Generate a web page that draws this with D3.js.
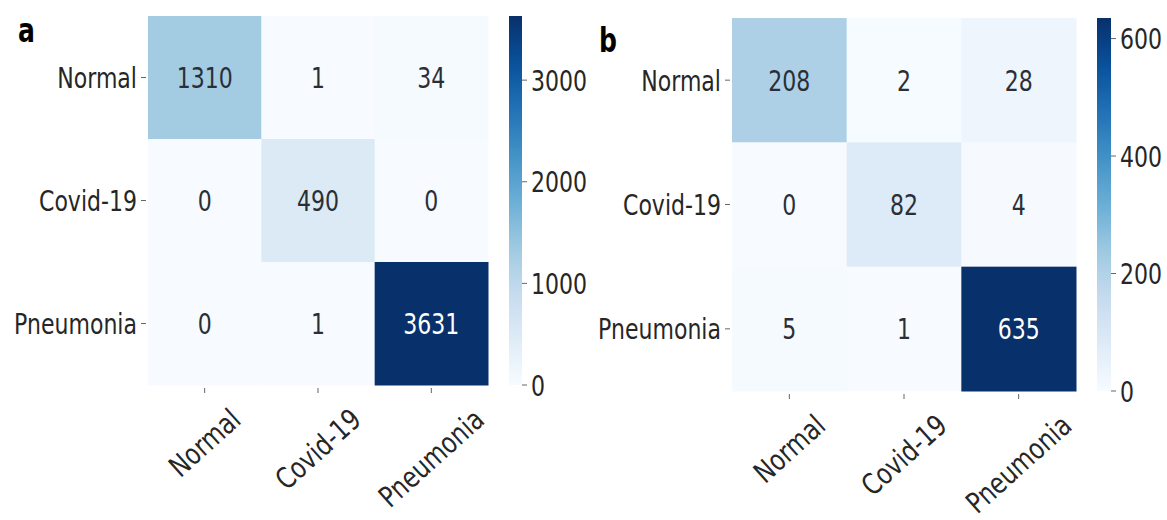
<!DOCTYPE html>
<html>
<head>
<meta charset="utf-8">
<script src="https://cdn.jsdelivr.net/npm/d3@7"></script>
<style>
  html, body { margin: 0; padding: 0; background: #ffffff; }
  svg { display: block; }
  text { font-family: "DejaVu Sans", sans-serif; fill: #262626; }
</style>
</head>
<body>
<svg id="chart" width="1167" height="520"></svg>
<script>
// ---------------- DATA ----------------
const classes = ["Normal", "Covid-19", "Pneumonia"];
const matrixA = [[1310, 1, 34], [0, 490, 0], [0, 1, 3631]];
const matrixB = [[208, 2, 28], [0, 82, 4], [5, 1, 635]];
const colorTicksA = [0, 1000, 2000, 3000];
const colorTicksB = [0, 200, 400, 600];
const panelLabels = ["a", "b"];

// matplotlib "Blues" colormap stops
const bluesStops = ["#f7fbff", "#deebf7", "#c6dbef", "#9ecae1", "#6baed6",
                    "#4292c6", "#2171b5", "#08519c", "#08306b"];

// ---------------- LAYOUT ----------------
const FS = 29;        // font size
const SX = 0.76;      // horizontal squeeze of text
const SXR = 0.8;      // squeeze of rotated labels
const ROT = 42;       // apparent rotation of x labels
const panels = [
  { data: matrixA, ticks: colorTicksA, label: panelLabels[0],
    hx: [148, 488], hy: [16, 385], cb: [509, 522], lab: [18, 42] },
  { data: matrixB, ticks: colorTicksB, label: panelLabels[1],
    hx: [732, 1076], hy: [18, 391], cb: [1097, 1111], lab: [599, 52] }
];

const svg = d3.select("#chart");
const defs = svg.append("defs");
const blues = d3.scaleLinear()
  .domain(d3.range(bluesStops.length).map(i => i / (bluesStops.length - 1)))
  .range(bluesStops)
  .interpolate(d3.interpolateRgb);

function squeezedText(g, x, y, str, opts = {}) {
  const t = g.append("text")
    .attr("transform", `translate(${x},${y})` + (opts.rotate ? ` rotate(${opts.rotate})` : "") + ` scale(${SX},1)`)
    .attr("font-size", opts.size || FS)
    .attr("text-anchor", opts.anchor || "start")
    .text(str);
  if (opts.dy !== undefined) t.attr("dy", opts.dy);
  if (opts.weight) t.attr("font-weight", opts.weight);
  if (opts.fill) t.style("fill", opts.fill);
  return t;
}

panels.forEach((p, pi) => {
  const g = svg.append("g");
  const flat = p.data.flat();
  const vmax = d3.max(flat);
  const color = v => blues(v / vmax);

  const x = d3.scaleBand().domain(classes).range(p.hx).padding(0);
  const y = d3.scaleBand().domain(classes).range(p.hy).padding(0);

  // cells
  const cells = [];
  p.data.forEach((row, ri) => row.forEach((v, ci) => cells.push({ r: classes[ri], c: classes[ci], v })));
  g.selectAll("rect.cell").data(cells).enter().append("rect")
    .attr("class", "cell")
    .attr("x", d => x(d.c)).attr("y", d => y(d.r))
    .attr("width", x.bandwidth() + 0.5).attr("height", y.bandwidth() + 0.5)
    .attr("fill", d => color(d.v));

  // annotations
  cells.forEach(d => {
    const lum = d3.lab(color(d.v)).l;
    squeezedText(g, x(d.c) + x.bandwidth() / 2, y(d.r) + y.bandwidth() / 2, String(d.v),
      { anchor: "middle", dy: 0.364 * FS, fill: lum < 55 ? "#ffffff" : "#2a2f36" });
  });

  // y axis ticks + labels
  classes.forEach(c => {
    const cy = y(c) + y.bandwidth() / 2;
    g.append("line").attr("x1", p.hx[0] - 7).attr("x2", p.hx[0] - 2)
      .attr("y1", cy).attr("y2", cy).attr("stroke", "#666").attr("stroke-width", 1);
    squeezedText(g, p.hx[0] - 11, cy, c, { anchor: "end", dy: 0.364 * FS });
  });

  // x axis ticks + rotated labels
  const top = p.hy[1] + 19;
  const a = ROT * Math.PI / 180;
  classes.forEach(c => {
    const cx = x(c) + x.bandwidth() / 2;
    g.append("line").attr("x1", cx).attr("x2", cx)
      .attr("y1", p.hy[1] + 3).attr("y2", p.hy[1] + 8).attr("stroke", "#666").attr("stroke-width", 1);
    const t = squeezedText(g, 0, 0, c, { anchor: "middle", dy: 0.346 * FS });
    const L = t.node().getComputedTextLength() * SXR;
    const H = L * Math.sin(a) + FS * 1.0 * Math.cos(a);
    t.attr("transform", `translate(${cx},${top + H / 2}) rotate(${-ROT}) scale(${SXR},1)`);
  });

  // colorbar
  const gid = "grad" + pi;
  const grad = defs.append("linearGradient").attr("id", gid)
    .attr("x1", 0).attr("y1", 1).attr("x2", 0).attr("y2", 0);
  d3.range(0, 1.0001, 0.05).forEach(o => grad.append("stop").attr("offset", o).attr("stop-color", blues(o)));
  g.append("rect").attr("x", p.cb[0]).attr("y", p.hy[0])
    .attr("width", p.cb[1] - p.cb[0]).attr("height", p.hy[1] - p.hy[0])
    .attr("fill", `url(#${gid})`);
  const cs = d3.scaleLinear().domain([0, vmax]).range([p.hy[1], p.hy[0]]);
  p.ticks.forEach(tv => {
    const ty = cs(tv);
    g.append("line").attr("x1", p.cb[1]).attr("x2", p.cb[1] + 5)
      .attr("y1", ty).attr("y2", ty).attr("stroke", "#666").attr("stroke-width", 1);
    squeezedText(g, p.cb[1] + 9, ty, String(tv), { anchor: "start", dy: 0.364 * FS });
  });

  // panel label
  squeezedText(g, p.lab[0], p.lab[1], p.label, { size: 33, weight: "bold", fill: "#000" });
});
</script>
</body>
</html>
